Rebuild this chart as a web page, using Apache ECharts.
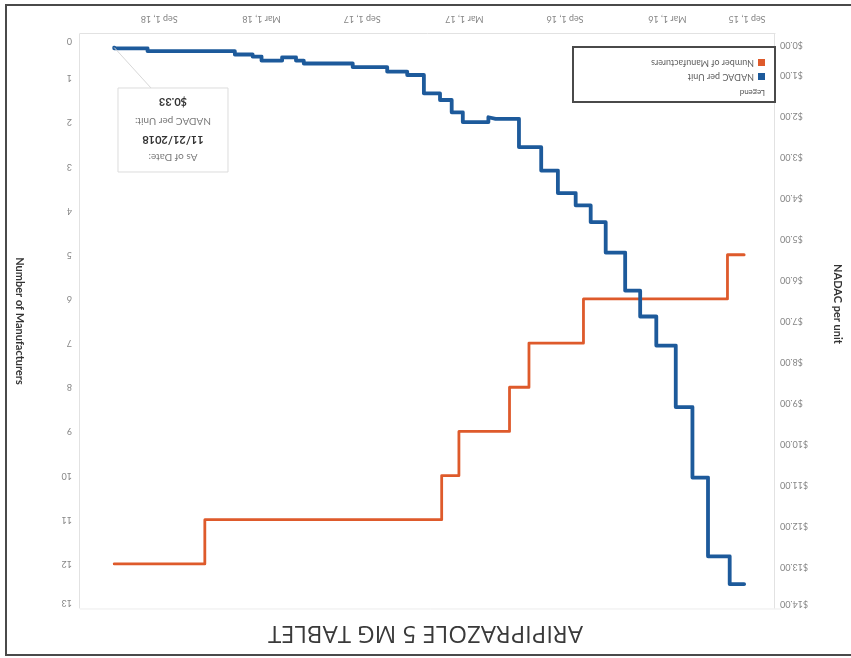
<!DOCTYPE html>
<html><head><meta charset="utf-8">
<script src="https://cdn.jsdelivr.net/npm/echarts@6/dist/echarts.min.js"></script>
<style>
html,body{margin:0;padding:0;background:#fff;overflow:hidden;}
#wrap{width:851px;height:658px;transform:rotate(180deg);transform-origin:50% 50%;}
#chart{width:851px;height:658px;}
</style></head><body>
<div id="wrap"><div id="chart"></div></div>
<script>
// ---- data ----
const chartTitle = 'ARIPIPRAZOLE 5 MG TABLET';
const nadacName = 'NADAC per Unit';
const mfrName = 'Number of Manufacturers';

const nadacDates = ['2015-10-15','2015-11-10','2015-12-19','2016-01-16','2016-02-15','2016-03-21','2016-04-19','2016-05-16','2016-06-20','2016-07-17','2016-08-13','2016-09-14','2016-10-14','2016-11-23','2017-01-04','2017-01-17','2017-03-04','2017-03-24','2017-04-14','2017-05-13','2017-06-12','2017-07-18','2017-09-18','2017-12-15','2017-12-29','2018-01-23','2018-03-01','2018-03-17','2018-04-18','2018-09-22','2018-11-21'];
const nadacValues = [13.42,12.74,10.82,9.10,7.60,6.89,6.26,5.33,4.59,4.18,3.88,3.33,2.76,2.07,2.03,2.15,1.91,1.61,1.45,1.00,0.92,0.81,0.72,0.65,0.57,0.65,0.55,0.50,0.42,0.35,0.33];

const mfrDates = ['2015-10-15','2015-11-14','2016-07-30','2016-11-05','2016-12-10','2017-03-11','2017-04-11','2018-06-11','2018-11-21'];
const mfrValues = [5,6,7,8,9,10,11,12,12];

const xTickDates = ['2015-09-01','2016-03-01','2016-09-01','2017-03-01','2017-09-01','2018-03-01','2018-09-01'];
const xTickLabels = ['Sep 1, 15','Mar 1, 16','Sep 1, 16','Mar 1, 17','Sep 1, 17','Mar 1, 18','Sep 1, 18'];
const xRange = ['2015-08-20T12:00:00Z','2019-01-21T12:00:00Z'];

const nadacMax = 14;
const mfrMax = 13;

const annotDate = '11/21/2018';
const annotValue = '$0.33';

// ---- build ----
const ts = s => Date.parse(s.length === 10 ? s + 'T00:00:00Z' : s);
const nadacData = nadacDates.map((d, i) => [ts(d), nadacValues[i]]);
const mfrData = mfrDates.map((d, i) => [ts(d), mfrValues[i]]);
const xTickTs = xTickDates.map(ts);

const FONT = 'Lato';
const LBL = '#858585';

const chart = echarts.init(document.getElementById('chart'), null, {renderer: 'canvas'});

const option = {
  backgroundColor: '#fff',
  animation: false,
  title: {
    text: chartTitle, left: 'center', top: 8,
    textStyle: {fontFamily: 'Open Sans', fontSize: 24, fontWeight: 'normal', color: '#3a3a3a'}
  },
  grid: {left: 70, right: 80, top: 50, bottom: 34, containLabel: false},
  legend: {
    orient: 'vertical', left: 86, top: 577, itemGap: 5, itemWidth: 7, itemHeight: 7,
    icon: 'rect', padding: 0,
    textStyle: {fontFamily: FONT, fontSize: 9, color: '#606060', padding: [0, 0, 0, -1]},
    data: [nadacName, mfrName]
  },
  xAxis: {
    type: 'value', min: ts(xRange[0]), max: ts(xRange[1]),
    axisLine: {show: true, lineStyle: {color: '#e2e2e2', width: 1}},
    axisTick: {show: false},
    splitLine: {show: false},
    axisLabel: {
      customValues: xTickTs, margin: 11,
      fontFamily: FONT, fontSize: 9, color: LBL,
      formatter: function (v) {
        const i = xTickTs.indexOf(v);
        const t = i >= 0 ? xTickLabels[i] : '';
        return i === 0 ? '{first|' + t + '}' : t;
      },
      rich: {first: {fontFamily: FONT, fontSize: 9, color: LBL, padding: [0, 0, 0, 43]}}
    }
  },
  yAxis: [
    {
      type: 'value', min: 0, max: nadacMax, interval: 1, position: 'left',
      name: 'NADAC per unit', nameLocation: 'middle', nameGap: 57, nameRotate: 90,
      nameTextStyle: {fontFamily: FONT, fontSize: 11, fontWeight: 'bold', color: '#333', padding: [0, 34, 0, 0]},
      axisLine: {show: true, lineStyle: {color: '#e2e2e2'}},
      axisTick: {show: false}, splitLine: {show: false},
      axisLabel: {
        margin: 5, fontFamily: FONT, fontSize: 9, color: LBL,
        formatter: function (v) {
          const t = '$' + v.toFixed(2);
          if (v === 0) return '{lo|' + t + '}';
          if (v === nadacMax) return '{hi|' + t + '}';
          return t;
        },
        rich: {
          lo: {fontFamily: FONT, fontSize: 9, color: LBL, padding: [0, 0, 22, 0]},
          hi: {fontFamily: FONT, fontSize: 9, color: LBL, padding: [8, 0, 0, 0]}
        }
      }
    },
    {
      type: 'value', min: 0, max: mfrMax, interval: 1, position: 'right',
      name: mfrName, nameLocation: 'middle', nameGap: 55, nameRotate: 90,
      nameTextStyle: {fontFamily: FONT, fontSize: 11, fontWeight: 'bold', color: '#333'},
      axisLine: {show: true, lineStyle: {color: '#e2e2e2'}},
      axisTick: {show: false}, splitLine: {show: false},
      axisLabel: {
        margin: 8, fontFamily: FONT, fontSize: 9, color: LBL,
        formatter: function (v) {
          const t = String(v);
          if (v === 0) return '{lo|' + t + '}';
          if (v === mfrMax) return '{hi|' + t + '}';
          return t;
        },
        rich: {
          lo: {fontFamily: FONT, fontSize: 9, color: LBL, padding: [0, 0, 14, 0]},
          hi: {fontFamily: FONT, fontSize: 9, color: LBL, padding: [10, 0, 0, 0]}
        }
      }
    }
  ],
  series: [
    {
      name: nadacName, type: 'line', yAxisIndex: 0, step: 'end', showSymbol: false,
      data: nadacData, color: '#1d5a9b',
      lineStyle: {width: 3.8, color: '#1d5a9b', cap: 'round', join: 'round'}, z: 3
    },
    {
      name: mfrName, type: 'line', yAxisIndex: 1, step: 'end', showSymbol: false,
      data: mfrData, color: '#de5a2b',
      lineStyle: {width: 2.8, color: '#de5a2b', cap: 'round', join: 'round'}, z: 2
    }
  ],
  graphic: [
    {type: 'polyline', shape: {points: [[0, 3], [845, 3], [845, 653], [0, 653]]},
     style: {stroke: '#4a4a4a', lineWidth: 2, fill: null}, silent: true},
    {type: 'line', shape: {x1: 70, y1: 49, x2: 771, y2: 49}, style: {stroke: '#ececec', lineWidth: 1}},
    // legend box
    {type: 'rect', shape: {x: 76, y: 556, width: 202, height: 55},
     style: {fill: 'rgba(255,255,255,0)', stroke: '#4a4a4a', lineWidth: 2}, z: 10},
    {type: 'text', x: 86, y: 561, style: {text: 'Legend', fontFamily: FONT, fontSize: 8, fill: '#555'}, z: 10},
    // annotation box
    {type: 'rect', shape: {x: 623, y: 486, width: 110, height: 84},
     style: {fill: '#fff', stroke: '#dcdcdc', lineWidth: 1}, z: 10},
    {type: 'text', x: 678, y: 501, style: {text: 'As of Date:', fontFamily: FONT, fontSize: 10, fill: '#7a7a7a', align: 'center', verticalAlign: 'middle'}, z: 11},
    {type: 'text', x: 678, y: 518, style: {text: annotDate, fontFamily: FONT, fontSize: 11, fontWeight: 'bold', fill: '#333', align: 'center', verticalAlign: 'middle'}, z: 11},
    {type: 'text', x: 678, y: 537, style: {text: 'NADAC per Unit:', fontFamily: FONT, fontSize: 10, fill: '#7a7a7a', align: 'center', verticalAlign: 'middle'}, z: 11},
    {type: 'text', x: 678, y: 556, style: {text: annotValue, fontFamily: FONT, fontSize: 11, fontWeight: 'bold', fill: '#333', align: 'center', verticalAlign: 'middle'}, z: 11}
  ]
};
chart.setOption(option);

// leader line from annotation box to the last NADAC point
const last = nadacData[nadacData.length - 1];
const p = chart.convertToPixel({xAxisIndex: 0, yAxisIndex: 0}, last);
const g = option.graphic.slice();
g.push({type: 'line', shape: {x1: 700, y1: 570, x2: p[0], y2: p[1]}, style: {stroke: '#d8d8d8', lineWidth: 1}, z: 9});
chart.setOption({graphic: g}, {replaceMerge: ['graphic']});
</script>
</body></html>
